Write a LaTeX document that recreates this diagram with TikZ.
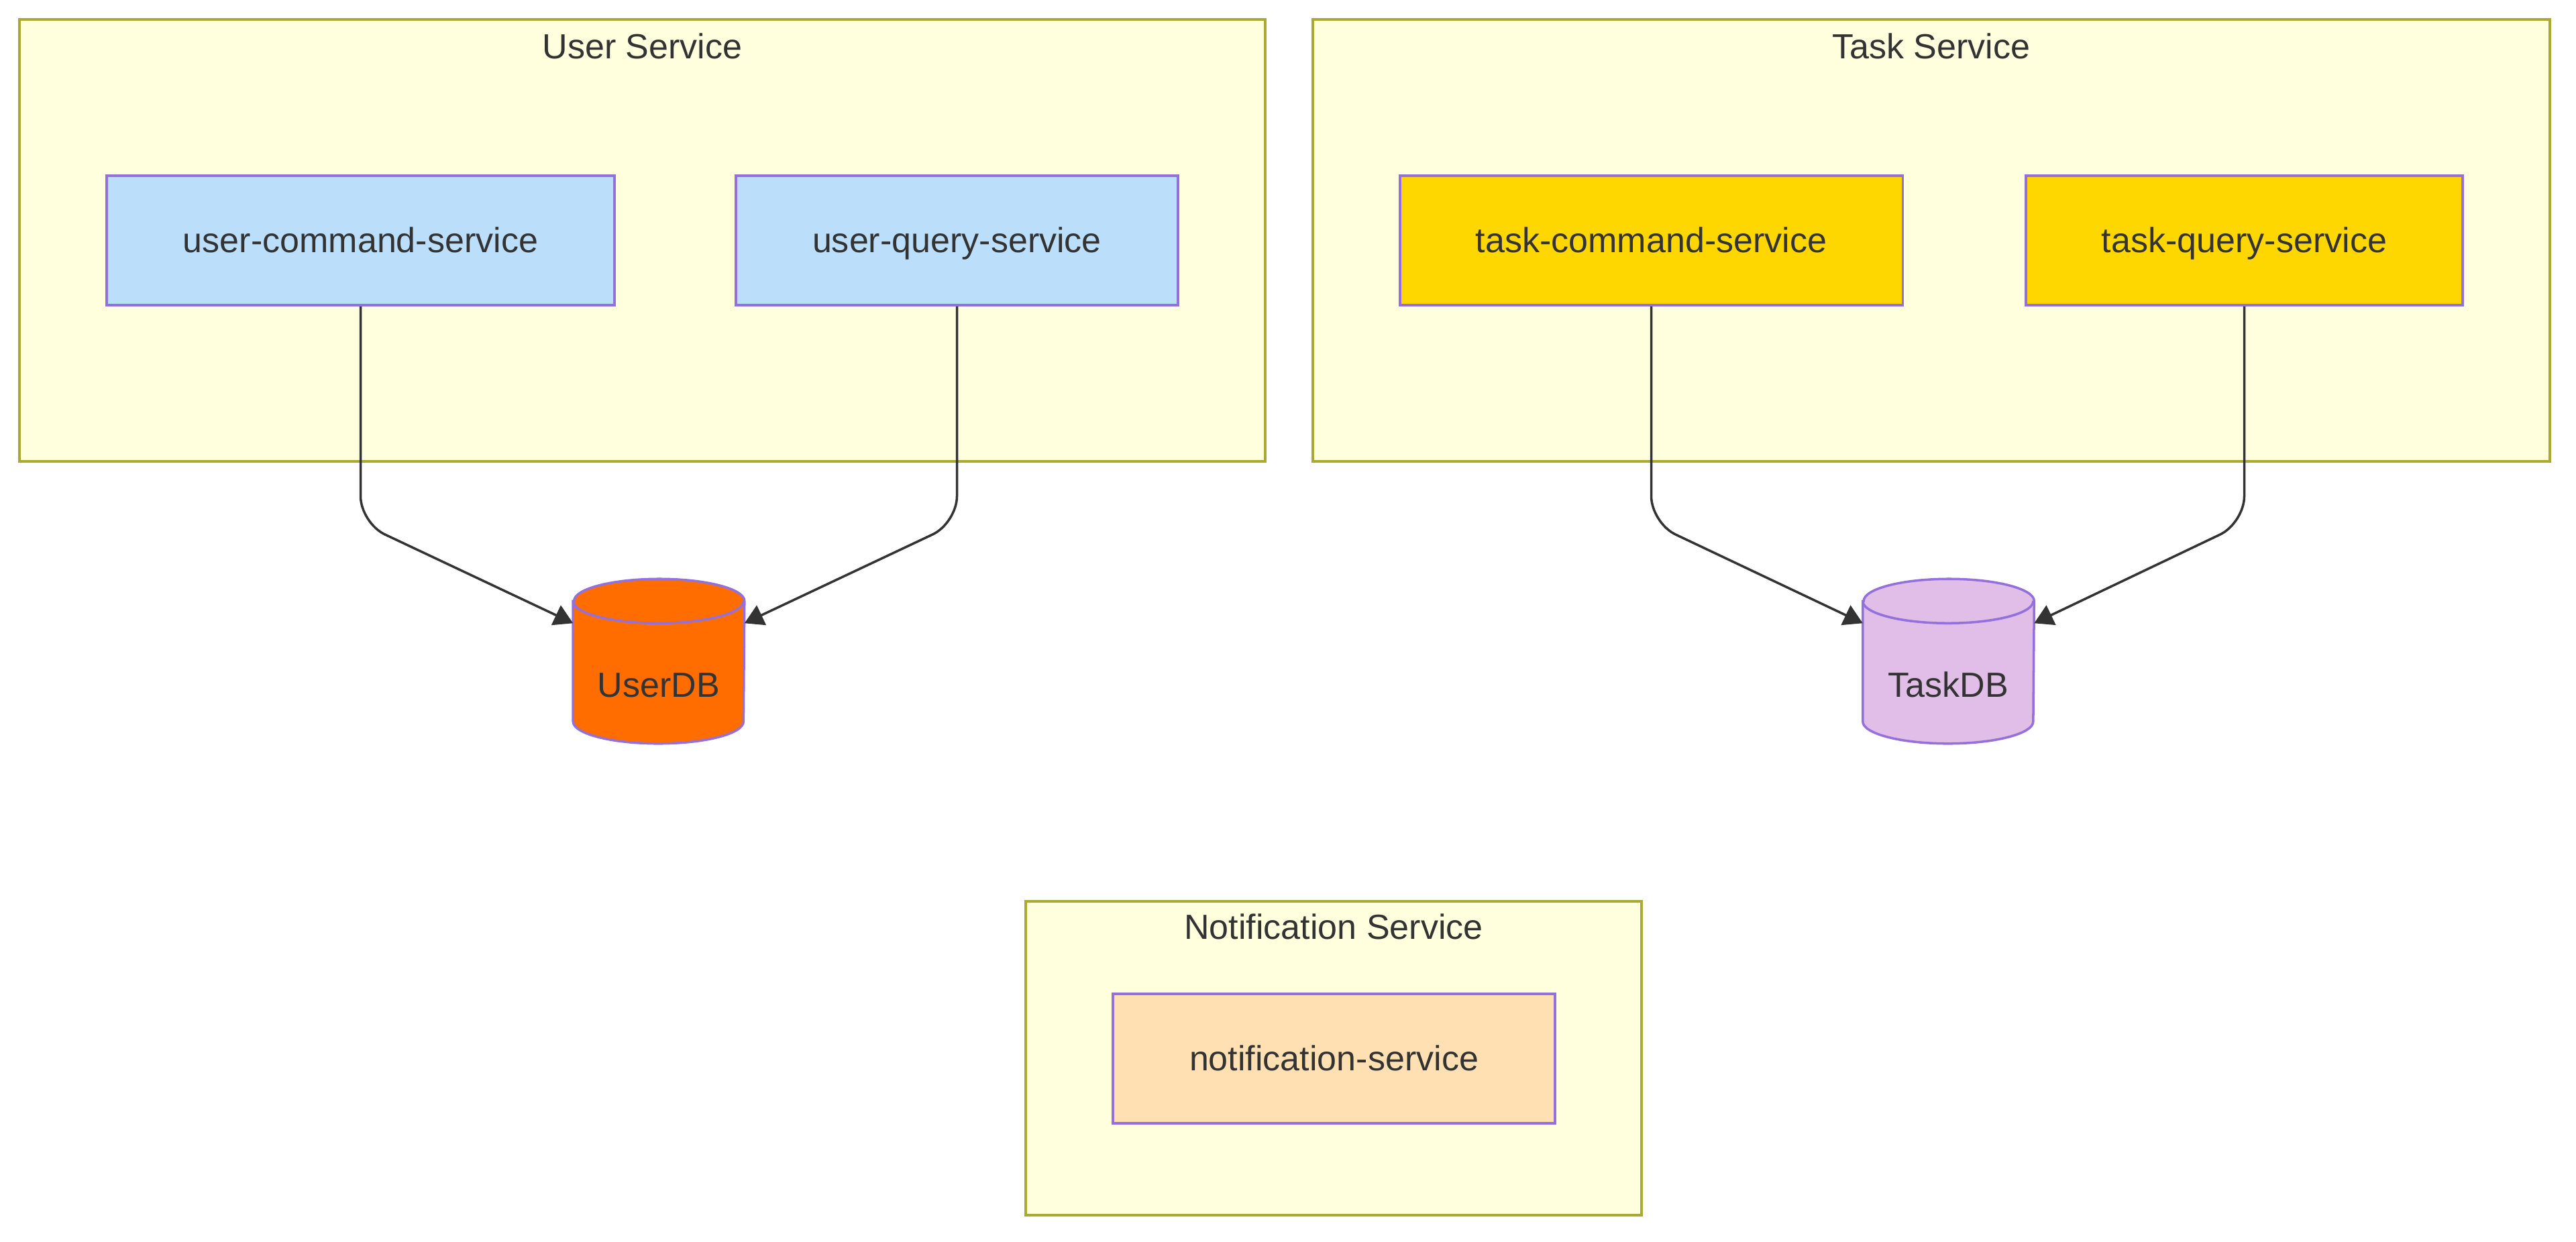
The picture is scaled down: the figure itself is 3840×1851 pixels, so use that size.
\documentclass[tikz,border=0pt]{standalone}
\usepackage{fontspec}
\setmainfont{Liberation Sans}
\usetikzlibrary{arrows.meta,calc}
\definecolor{frameFill}{HTML}{FFFFDE}
\definecolor{frameLine}{HTML}{AAAA33}
\definecolor{nodeLine}{HTML}{9370DB}
\definecolor{txt}{HTML}{333333}
\definecolor{userFill}{HTML}{BBDEFB}
\definecolor{taskFill}{HTML}{FFD700}
\definecolor{notifFill}{HTML}{FFE0B2}
\definecolor{userDBFill}{HTML}{FF6D00}
\definecolor{taskDBFill}{HTML}{E1BEE7}
\tikzset{
  frame/.style={draw=frameLine, fill=frameFill, line width=1.1pt},
  svc/.style={draw=nodeLine, line width=1pt, rectangle, minimum height=1.93cm, inner sep=0pt, text=txt, font=\fontsize{14.8}{18}\selectfont, text height=12pt, text depth=1.6pt},
  ttl/.style={text=txt, font=\fontsize{14.8}{18}\selectfont, inner sep=0pt, text height=12pt, text depth=1.6pt},
  dbbox/.style={rectangle, minimum width=2.54cm, minimum height=2.44cm, inner sep=0pt},
  cyl/.style={draw=nodeLine, line width=1pt},
  arr/.style={draw=txt, line width=1pt, rounded corners=0.4cm, -{Triangle[length=0.28cm,width=0.32cm]}}
}
\begin{document}
\begin{tikzpicture}[x=0.01cm,y=-0.01cm]
\useasboundingbox (0,0) rectangle (3840,1851);
\fill[white] (0,0) rectangle (3840,1851);
% frames
\draw[frame] (29,29) rectangle (1886,688);
\draw[frame] (1957,29) rectangle (3801,688);
\draw[frame] (1529,1344) rectangle (2447,1812);
\node[ttl] (t1) at (957.5,69) {User Service};
\node[ttl] (t2) at (2879,69) {Task Service};
\node[ttl] (t3) at (1988,1382) {Notification Service};
% service nodes
\node[svc, fill=userFill, minimum width=7.57cm] (ucs) at (537.5,358.5) {user-command-service};
\node[svc, fill=userFill, minimum width=6.59cm] (uqs) at (1426.5,358.5) {user-query-service};
\node[svc, fill=taskFill, minimum width=7.49cm] (tcs) at (2461.5,358.5) {task-command-service};
\node[svc, fill=taskFill, minimum width=6.51cm] (tqs) at (3345.5,358.5) {task-query-service};
\node[svc, fill=notifFill, minimum width=6.59cm] (ns) at (1988.5,1578.5) {notification-service};
% databases
\node[dbbox] (udb) at (982,986) {};
\node[dbbox] (tdb) at (2904.5,986) {};
\foreach \n/\c in {udb/userDBFill, tdb/taskDBFill}{
  \draw[cyl, fill=\c] ([yshift=-0.33cm]\n.north west) -- ([yshift=0.33cm]\n.south west)
    arc[start angle=180,end angle=360,x radius=1.27cm,y radius=0.33cm]
    -- ([yshift=-0.33cm]\n.north east)
    arc[start angle=0,end angle=180,x radius=1.27cm,y radius=0.33cm] -- cycle;
  \draw[cyl] ([yshift=-0.33cm]\n.north west)
    arc[start angle=180,end angle=360,x radius=1.27cm,y radius=0.33cm];
}
\node[ttl] (udbl) at (982,1021) {UserDB};
\node[ttl] (tdbl) at (2904.5,1021) {TaskDB};
% arrows
\draw[arr] (ucs.south) -- ++(0,323) -- ([yshift=-0.66cm]udb.north west);
\draw[arr] (uqs.south) -- ++(0,323) -- ([yshift=-0.66cm]udb.north east);
\draw[arr] (tcs.south) -- ++(0,323) -- ([yshift=-0.66cm]tdb.north west);
\draw[arr] (tqs.south) -- ++(0,323) -- ([yshift=-0.66cm]tdb.north east);
\end{tikzpicture}
\end{document}
